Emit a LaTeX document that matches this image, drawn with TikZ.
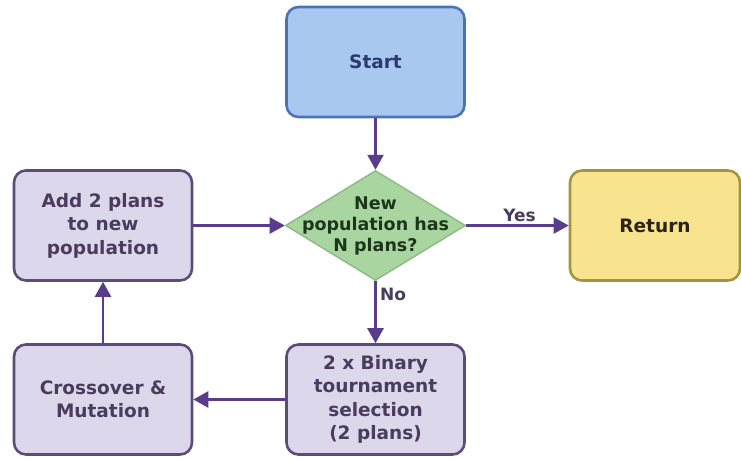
\documentclass[tikz,border=0pt]{standalone}
\usepackage{fontspec}
\setmainfont{DejaVu Sans}
\usetikzlibrary{arrows.meta,shapes.geometric}
\definecolor{bluefill}{HTML}{A8C8F0}
\definecolor{blueline}{HTML}{4E72B8}
\definecolor{bluetext}{HTML}{2E3A6E}
\definecolor{greenfill}{HTML}{A9D6A0}
\definecolor{greenline}{HTML}{8DBC86}
\definecolor{greentext}{HTML}{1C361C}
\definecolor{yellowfill}{HTML}{F8E38E}
\definecolor{yellowline}{HTML}{A39440}
\definecolor{yellowtext}{HTML}{2A2418}
\definecolor{lavfill}{HTML}{DDD7EC}
\definecolor{lavline}{HTML}{5C4C78}
\definecolor{lavtext}{HTML}{4A3C5C}
\definecolor{arrowcol}{HTML}{5A3C8C}
\tikzset{
  boxfont/.style={font=\fontsize{18.5}{23.5}\selectfont\bfseries},
  basebox/.style={rounded corners=12pt, line width=2.6pt, minimum width=178pt,
    minimum height=110pt, align=center, inner sep=4pt, boxfont},
  startbox/.style={basebox, fill=bluefill, draw=blueline, text=bluetext},
  returnbox/.style={basebox, minimum width=170pt, fill=yellowfill, draw=yellowline, text=yellowtext},
  procbox/.style={basebox, fill=lavfill, draw=lavline, text=lavtext},
  decision/.style={diamond, fill=greenfill, draw=greenline, line width=1.5pt,
    inner sep=0pt, minimum width=180pt, minimum height=110pt},
  dectext/.style={text=greentext, align=center, inner sep=0pt,
    font=\fontsize{17.5}{21}\selectfont\bfseries},
  flow/.style={draw=arrowcol, line width=2.4pt, -{Triangle[length=15pt,width=16pt]}},
  lbl/.style={text=lavtext, font=\fontsize{17}{19}\selectfont\bfseries}
}
\begin{document}
\begin{tikzpicture}[x=1pt,y=-1pt]
\useasboundingbox (0,0) rectangle (741,459);
\fill[white] (0,0) rectangle (741,459);
\node[startbox] (start) at (375.5,62) {Start};
\node[decision] (dec) at (375.5,225.5) {};
\node[dectext] (dectxt) at (375.5,225.5) {New\\population has\\N plans?};
\node[returnbox] (ret) at (655,225.5) {Return};
\node[procbox] (add) at (103,225.5) {Add 2 plans\\to new\\population};
\node[procbox] (cross) at (103,399.5) {Crossover \&\\Mutation};
\node[procbox] (sel) at (375.5,399.5) {2 x Binary\\tournament\\selection\\(2 plans)};
\draw[flow] (start) -- (dec);
\draw[flow] (add) -- (dec);
\draw[flow] (dec) -- node[lbl, above, pos=0.52, yshift=-1pt] {Yes} (ret);
\draw[flow] (dec) -- node[lbl, right, pos=0.22] {No} (sel);
\draw[flow] (sel) -- (cross);
\draw[flow] (cross) -- (add);
\end{tikzpicture}
\end{document}
